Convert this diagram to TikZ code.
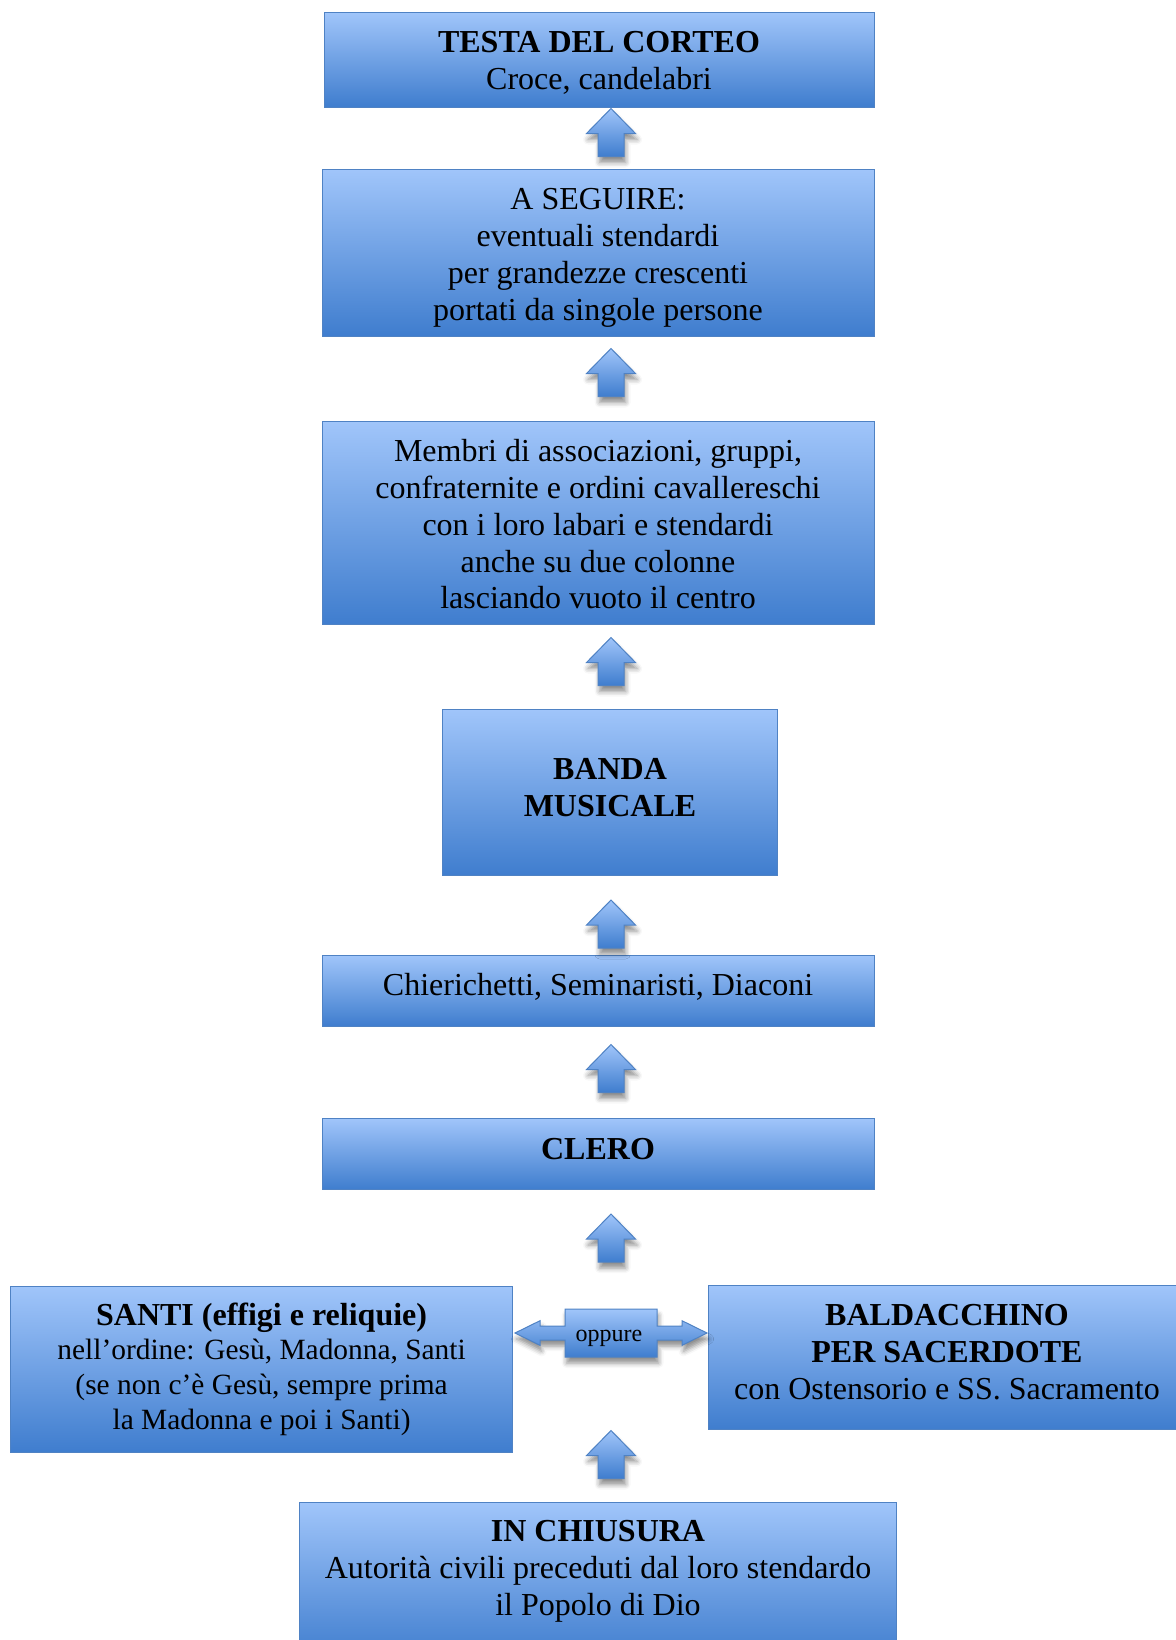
\documentclass[tikz,border=0pt]{standalone}
\usepackage{fontspec}
\setmainfont{Liberation Serif}
\usetikzlibrary{shadows.blur}
\definecolor{boxtop}{RGB}{160,197,250}
\definecolor{boxbot}{RGB}{63,125,206}
\definecolor{boxline}{RGB}{79,130,196}
\tikzset{
  flowbox/.style={draw=boxline, line width=0.5pt, top color=boxtop, bottom color=boxbot,
    inner sep=0pt},
  blockarrow/.style={draw=boxline, line width=0.5pt, top color=boxtop, bottom color=boxbot,
    blur shadow={shadow xshift=0.8pt, shadow yshift=-3pt, shadow blur radius=2.5pt, shadow opacity=45}},
  plaintext/.style={inner sep=0pt, align=center, font=\fontsize{16}{18.4}\selectfont}
}
\newcommand\blockup[2]{%
  \path[blockarrow] (#1,#2) -- ++(24.5,25) -- ++(-11.5,0) -- ++(0,23) -- ++(-26,0) -- ++(0,-23) -- ++(-11.5,0) -- cycle;}
\begin{document}
\begin{tikzpicture}[x=0.5pt,y=-0.5pt]
\useasboundingbox (0,0) rectangle (1176,1640);
\clip (0,0) rectangle (1176,1640);

\node[flowbox, minimum width=275pt, minimum height=47.25pt,
  label={[plaintext, yshift=-1.5pt]center:{\textbf{TESTA DEL CORTEO}\\Croce, candelabri}}] (testa) at (599,59.75) {};
\node[flowbox, minimum width=276pt, minimum height=83.25pt,
  label={[plaintext, yshift=-2.6pt]center:{A SEGUIRE:\\eventuali stendardi\\per grandezze crescenti\\portati da singole persone}}] (seguire) at (598,252.75) {};
\node[flowbox, minimum width=276pt, minimum height=101.5pt,
  label={[plaintext, yshift=-0.6pt]center:{Membri di associazioni, gruppi,\\confraternite e ordini cavallereschi\\con i loro labari e stendardi\\anche su due colonne\\lasciando vuoto il centro}}] (membri) at (598,523.15) {};
\node[flowbox, minimum width=167.4pt, minimum height=83.2pt,
  label={[plaintext, yshift=2.6pt]center:{\textbf{BANDA}\\\textbf{MUSICALE}}}] (banda) at (610,792.6) {};
\node[flowbox, minimum width=276pt, minimum height=35.7pt,
  label={[plaintext, yshift=2.1pt]center:{Chierichetti, Seminaristi, Diaconi}}] (chier) at (598,990.7) {};
\node[flowbox, minimum width=276pt, minimum height=35.5pt,
  label={[plaintext, yshift=2.6pt]center:{\textbf{CLERO}}}] (clero) at (598,1154) {};
\node[flowbox, minimum width=251pt, minimum height=83.15pt,
  label={[plaintext, font=\fontsize{14.7}{17.4}\selectfont]center:{\textbf{\fontsize{16}{17.4}\selectfont SANTI (effigi e reliquie)}\\nell’ordine: Gesù, Madonna, Santi\\(se non c’è Gesù, sempre prima\\la Madonna e poi i Santi)}}] (santi) at (261.6,1369.15) {};
\node[flowbox, minimum width=238.7pt, minimum height=71.65pt,
  label={[plaintext, yshift=2.6pt]center:{\textbf{BALDACCHINO}\\\textbf{PER SACERDOTE}\\con Ostensorio e SS. Sacramento}}] (bald) at (947,1357.6) {};
\node[flowbox, minimum width=298.85pt, minimum height=78.75pt] (chiusura) at (597.85,1581.25) {};
\node[plaintext] (chiusuratext) at (598,1571)
  {\textbf{IN CHIUSURA}\\Autorità civili preceduti dal loro stendardo\\il Popolo di Dio};

% block arrows
\blockup{611}{108.5}
\blockup{611}{348.5}
\blockup{611}{637.5}
\blockup{611}{900}
\blockup{611}{1044.5}
\blockup{611}{1214}
\blockup{611}{1430.5}

% double arrow "oppure"
\path[blockarrow] (515,1333) -- (540,1320.7) -- (540,1326) -- (565,1326) -- (565,1309) -- (657,1309)
  -- (657,1326) -- (682,1326) -- (682,1320.7) -- (707,1333) -- (682,1345.3) -- (682,1340)
  -- (657,1340) -- (657,1357) -- (565,1357) -- (565,1340) -- (540,1340) -- (540,1345.3) -- cycle;
\node[inner sep=0pt, font=\fontsize{12}{14}\selectfont] (oppure) at (609,1338) {oppure};
\end{tikzpicture}
\end{document}
